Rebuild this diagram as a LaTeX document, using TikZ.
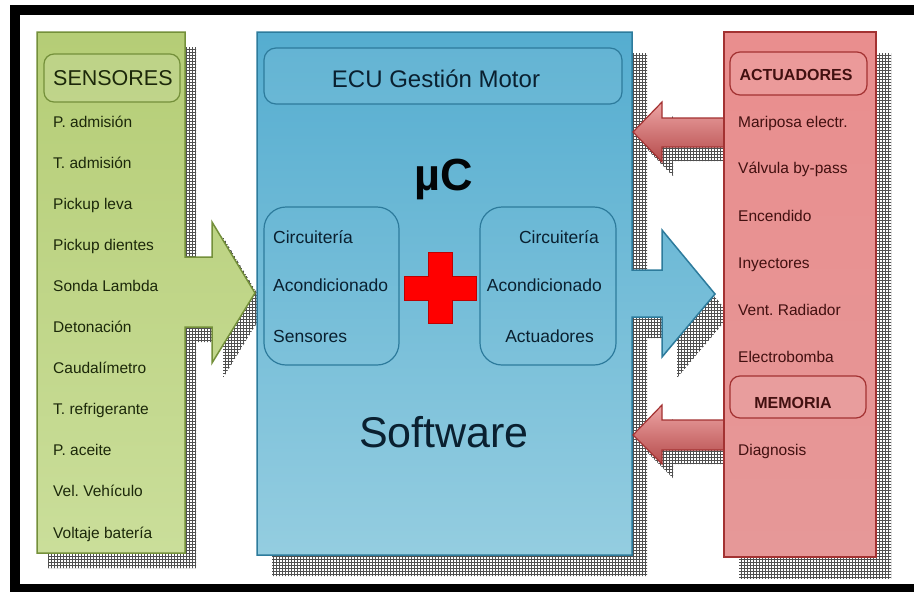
\documentclass[tikz,border=0pt]{standalone}
\usepackage{fontspec}
\setmainfont{Liberation Sans}
\usetikzlibrary{patterns}
\frenchspacing

\definecolor{shgray}{HTML}{505050}
\definecolor{grnTop}{HTML}{B5CD76}
\definecolor{grnMid}{HTML}{A0BE52}
\definecolor{grnBot}{HTML}{CADE9A}
\definecolor{grnLine}{HTML}{74903A}
\definecolor{grnText}{HTML}{1C280A}
\definecolor{bluTop}{HTML}{55ADD0}
\definecolor{bluBot}{HTML}{94CDE0}
\definecolor{bluLine}{HTML}{2D7B9C}
\definecolor{bluText}{HTML}{0A2030}
\definecolor{redTop}{HTML}{E98E8E}
\definecolor{redMid}{HTML}{D55858}
\definecolor{redBot}{HTML}{E69898}
\definecolor{redLine}{HTML}{A33232}
\definecolor{redText}{HTML}{421010}

% outlines of the three panels (with their arrows) and the two feedback arrows
\newcommand{\greenpoly}{(37,32) -- (185,32) -- (185,257) -- (212,257) -- (212,222) -- (255,293) -- (212,363) -- (212,327) -- (185,327) -- (185,553) -- (37,553) -- cycle}
\newcommand{\bluepoly}{(257,32) -- (632,32) -- (632,270) -- (662,270) -- (662,230) -- (715,294) -- (662,357) -- (662,317) -- (632,317) -- (632,555) -- (257,555) -- cycle}
\newcommand{\redpoly}{(724,32) -- (876,32) -- (876,557) -- (724,557) -- cycle}
\newcommand{\fbarrowA}{(724,118) -- (662,118) -- (662,102) -- (633,132) -- (662,162) -- (662,147) -- (724,147)}
\newcommand{\fbarrowB}{(724,420) -- (662,420) -- (662,405) -- (633,435) -- (662,464) -- (662,450) -- (724,450)}

\begin{document}
\begin{tikzpicture}[x=1pt,y=-1pt,
  shadowfill/.style={pattern=grid, pattern color=shgray},
  inbox/.style={rounded corners=#1, line width=1.2pt},
  itemg/.style={anchor=base west, inner sep=0pt, text=grnText, font=\fontsize{15.5}{18}\selectfont},
  itemr/.style={anchor=base west, inner sep=0pt, text=redText, font=\fontsize{15.5}{18}\selectfont},
  itemb/.style={inner sep=0pt, text=bluText, font=\fontsize{17.5}{20}\selectfont},
  headr/.style={anchor=base, inner sep=0pt, text=redText, font=\bfseries\fontsize{16}{19}\selectfont}]
\useasboundingbox (0,0) rectangle (914,592);

% black frame
\fill[black] (10,5) rectangle (914,592);
\fill[white] (20,15) rectangle (914,584);

% drop shadows
\begin{scope}[shift={(11,15)}]
  \fill[shadowfill] \greenpoly;
\end{scope}
\begin{scope}[shift={(15,21)}]
  \fill[shadowfill] \bluepoly;
  \fill[shadowfill] \redpoly;
\end{scope}

% ECU panel with output arrow
\draw[bluLine, line width=1.5pt, top color=bluTop, bottom color=bluBot] \bluepoly;

% feedback arrows from the actuator panel
\begin{scope}[shift={(11,14)}]
  \fill[shadowfill] \fbarrowA -- cycle;
  \fill[shadowfill] \fbarrowB -- cycle;
\end{scope}
\draw[redLine, line width=1.2pt, top color=redTop!80!white, bottom color=redMid!85!black] \fbarrowA -- cycle;
\draw[redLine, line width=1.2pt, top color=redTop!80!white, bottom color=redMid!85!black] \fbarrowB -- cycle;

% sensor panel with input arrow
\draw[grnLine, line width=1.5pt, top color=grnTop, middle color=grnMid, bottom color=grnBot] \greenpoly;

% actuator panel
\draw[redLine, line width=1.5pt, top color=redTop, middle color=redMid, bottom color=redBot] \redpoly;

% ---------- sensors ----------
\draw[grnLine, inbox=10pt, fill=white, fill opacity=0.12] (44,54) rectangle (180,102);
\node[anchor=base west, inner sep=0pt, text=grnText, font=\fontsize{21.5}{24}\selectfont] (sens) at (53,85) {SENSORES};
\foreach \t [count=\i from 0] in {P. admisión, T. admisión, Pickup leva, Pickup dientes, Sonda Lambda, Detonación, Caudalímetro, T. refrigerante, P. aceite, Vel. Vehículo, Voltaje batería}
  \node[itemg] (s\i) at (53,{127+41.1*\i}) {\t};

% ---------- ECU ----------
\draw[bluLine, inbox=12pt, fill=white, fill opacity=0.08] (264,48) rectangle (622,104);
\node[anchor=base, inner sep=0pt, text=bluText, font=\fontsize{24}{28}\selectfont] (ecu) at (436,87) {ECU Gestión Motor};
\node[anchor=base, inner sep=0pt, text=black!85!bluText, font=\bfseries\fontsize{45}{50}\selectfont] (uc) at (444,190) {µC};
\node[anchor=base, inner sep=0pt, text=bluText, font=\fontsize{43}{48}\selectfont] (sw) at (444,447) {Software};

\draw[bluLine, inbox=22pt] (264,207) rectangle (399,365);
\draw[bluLine, inbox=22pt] (480,207) rectangle (616,365);
\node[itemb, anchor=base west] (cl1) at (273,243) {Circuitería};
\node[itemb, anchor=base west] (cl2) at (273,291) {Acondicionado};
\node[itemb, anchor=base west] (cl3) at (273,342) {Sensores};
\node[itemb, anchor=base east] (cr1) at (599,243) {Circuitería};
\node[itemb, anchor=base east] (cr2) at (602,291) {Acondicionado};
\node[itemb, anchor=base east] (cr3) at (594,342) {Actuadores};

% red cross between the two conditioning blocks
\draw[red!75!black, line width=0.8pt, fill=red] (428,252) -- (452,252) -- (452,276) -- (476,276) -- (476,300) -- (452,300) -- (452,323) -- (428,323) -- (428,300) -- (404,300) -- (404,276) -- (428,276) -- cycle;

% ---------- actuators ----------
\draw[redLine, inbox=10pt, fill=white, fill opacity=0.1] (730,52) rectangle (867,95);
\node[headr] (act) at (796,80) {ACTUADORES};
\node[itemr] (a1) at (738,127) {Mariposa electr.};
\node[itemr] (a2) at (738,173) {Válvula by-pass};
\node[itemr] (a3) at (738,221) {Encendido};
\node[itemr] (a4) at (738,268) {Inyectores};
\node[itemr] (a5) at (738,315) {Vent. Radiador};
\node[itemr] (a6) at (738,362) {Electrobomba};
\draw[redLine, inbox=10pt, fill=white, fill opacity=0.08] (730,376) rectangle (866,418);
\node[headr] (mem) at (793,408) {MEMORIA};
\node[itemr] (d1) at (738,455) {Diagnosis};
\end{tikzpicture}
\end{document}
